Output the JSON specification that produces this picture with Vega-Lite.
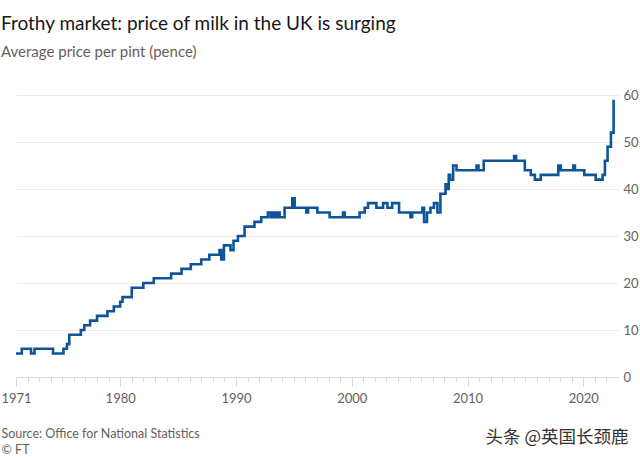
{
  "$schema": "https://vega.github.io/schema/vega-lite/v6.json",
  "width": 602,
  "height": 282,
  "padding": {"left": 0, "top": 15, "right": 0, "bottom": 0},
  "background": "#ffffff",
  "config": {
    "view": {"stroke": null},
    "font": "Lato"
  },
  "title": {
    "text": "Frothy market: price of milk in the UK is surging",
    "subtitle": "Average price per pint (pence)",
    "anchor": "start",
    "frame": "group",
    "dx": -15,
    "font": "Lato",
    "fontSize": 19,
    "fontWeight": "normal",
    "color": "#1a1817",
    "subtitleFont": "Lato",
    "subtitleFontSize": 15,
    "subtitleColor": "#66605c",
    "subtitlePadding": 11,
    "offset": 29
  },
  "data": {
    "values": [
      {"year": 1971.0, "price": 5},
      {"year": 1971.5, "price": 6},
      {"year": 1972.3, "price": 5},
      {"year": 1972.6, "price": 6},
      {"year": 1974.2, "price": 5},
      {"year": 1975.1, "price": 6},
      {"year": 1975.4, "price": 7},
      {"year": 1975.6, "price": 9},
      {"year": 1976.6, "price": 10},
      {"year": 1976.9, "price": 11},
      {"year": 1977.4, "price": 12},
      {"year": 1978.0, "price": 13},
      {"year": 1978.9, "price": 14},
      {"year": 1979.45, "price": 15},
      {"year": 1980.0, "price": 16},
      {"year": 1980.2, "price": 17},
      {"year": 1981.0, "price": 19},
      {"year": 1982.0, "price": 20},
      {"year": 1982.9, "price": 21},
      {"year": 1984.4, "price": 22},
      {"year": 1985.3, "price": 23},
      {"year": 1986.1, "price": 24},
      {"year": 1987.0, "price": 25},
      {"year": 1987.7, "price": 26},
      {"year": 1988.58, "price": 27},
      {"year": 1988.73, "price": 25},
      {"year": 1988.96, "price": 28},
      {"year": 1989.53, "price": 27},
      {"year": 1989.79, "price": 29},
      {"year": 1990.17, "price": 30},
      {"year": 1990.74, "price": 32},
      {"year": 1991.6, "price": 33},
      {"year": 1992.18, "price": 34},
      {"year": 1992.76, "price": 35},
      {"year": 1993.0, "price": 34},
      {"year": 1993.2, "price": 35},
      {"year": 1993.36, "price": 34},
      {"year": 1993.57, "price": 35},
      {"year": 1993.77, "price": 34},
      {"year": 1994.2, "price": 36},
      {"year": 1994.87, "price": 38},
      {"year": 1995.07, "price": 36},
      {"year": 1996.08, "price": 35},
      {"year": 1996.23, "price": 36},
      {"year": 1997.03, "price": 35},
      {"year": 1998.09, "price": 34},
      {"year": 1999.25, "price": 35},
      {"year": 1999.4, "price": 34},
      {"year": 2000.68, "price": 35},
      {"year": 2001.12, "price": 36},
      {"year": 2001.41, "price": 37},
      {"year": 2002.13, "price": 36},
      {"year": 2002.71, "price": 37},
      {"year": 2003.08, "price": 36},
      {"year": 2003.49, "price": 37},
      {"year": 2004.09, "price": 35},
      {"year": 2005.07, "price": 34},
      {"year": 2005.22, "price": 35},
      {"year": 2006.1, "price": 36},
      {"year": 2006.25, "price": 33},
      {"year": 2006.5, "price": 35},
      {"year": 2006.8, "price": 36},
      {"year": 2007.1, "price": 37},
      {"year": 2007.4, "price": 35},
      {"year": 2007.66, "price": 39},
      {"year": 2008.1, "price": 41},
      {"year": 2008.22, "price": 40},
      {"year": 2008.38, "price": 43},
      {"year": 2008.5, "price": 42},
      {"year": 2008.76, "price": 45},
      {"year": 2009.05, "price": 44},
      {"year": 2010.78, "price": 45},
      {"year": 2010.95, "price": 44},
      {"year": 2011.4, "price": 46},
      {"year": 2014.03, "price": 47},
      {"year": 2014.2, "price": 46},
      {"year": 2014.95, "price": 44},
      {"year": 2015.47, "price": 43},
      {"year": 2015.82, "price": 42},
      {"year": 2016.33, "price": 43},
      {"year": 2017.84, "price": 45},
      {"year": 2018.06, "price": 44},
      {"year": 2019.14, "price": 45},
      {"year": 2019.28, "price": 44},
      {"year": 2020.09, "price": 43},
      {"year": 2021.07, "price": 42},
      {"year": 2021.67, "price": 43},
      {"year": 2021.87, "price": 46},
      {"year": 2022.1, "price": 49},
      {"year": 2022.39, "price": 52},
      {"year": 2022.62, "price": 59}
    ]
  },
  "mark": {
    "type": "line",
    "interpolate": "step-after",
    "color": "#0f5499",
    "strokeWidth": 2.6
  },
  "encoding": {
    "x": {
      "field": "year",
      "type": "quantitative",
      "scale": {"domain": [1971, 2023], "nice": false, "zero": false},
      "axis": {
        "values": [1971,1972,1973,1974,1975,1976,1977,1978,1979,1980,1981,1982,1983,1984,1985,1986,1987,1988,1989,1990,1991,1992,1993,1994,1995,1996,1997,1998,1999,2000,2001,2002,2003,2004,2005,2006,2007,2008,2009,2010,2011,2012,2013,2014,2015,2016,2017,2018,2019,2020,2021,2022],
        "format": "d",
        "labelExpr": "(datum.value == 1971 || datum.value % 10 == 0) ? datum.label : ''",
        "grid": false,
        "domainColor": "#e0d8d1",
        "tickColor": "#e0d8d1",
        "tickSize": {"condition": {"test": "datum.value % 10 == 0 || datum.value == 1971", "value": 9}, "value": 5},
        "labelColor": "#66605c",
        "labelFont": "Lato",
        "labelFontSize": 13,
        "labelPadding": 6,
        "labelFlush": false,
        "labelOverlap": false,
        "title": ["Source: Office for National Statistics", "© FT"],
        "titleFont": "Lato",
        "titleFontSize": 12.5,
        "titleFontWeight": "normal",
        "titleColor": "#66605c",
        "titleAnchor": "start",
        "titleAlign": "left",
        "titleBaseline": "top",
        "titleX": -15,
        "titleY": 50,
        "titleLineHeight": 16
      }
    },
    "y": {
      "field": "price",
      "type": "quantitative",
      "scale": {"domain": [0, 60], "nice": false},
      "axis": {
        "orient": "right",
        "values": [0, 10, 20, 30, 40, 50, 60],
        "grid": true,
        "gridColor": "#f2ebe5",
        "gridWidth": 1,
        "domain": false,
        "ticks": false,
        "labelColor": "#66605c",
        "labelFont": "Lato",
        "labelFontSize": 13,
        "labelPadding": 5,
        "title": "头条 @英国长颈鹿",
        "titleFont": "Noto Sans CJK SC",
        "titleFontSize": 17.5,
        "titleFontWeight": "normal",
        "titleColor": "#333333",
        "titleAngle": 0,
        "titleAlign": "right",
        "titleBaseline": "middle",
        "titleX": 10,
        "titleY": 342
      }
    }
  }
}
